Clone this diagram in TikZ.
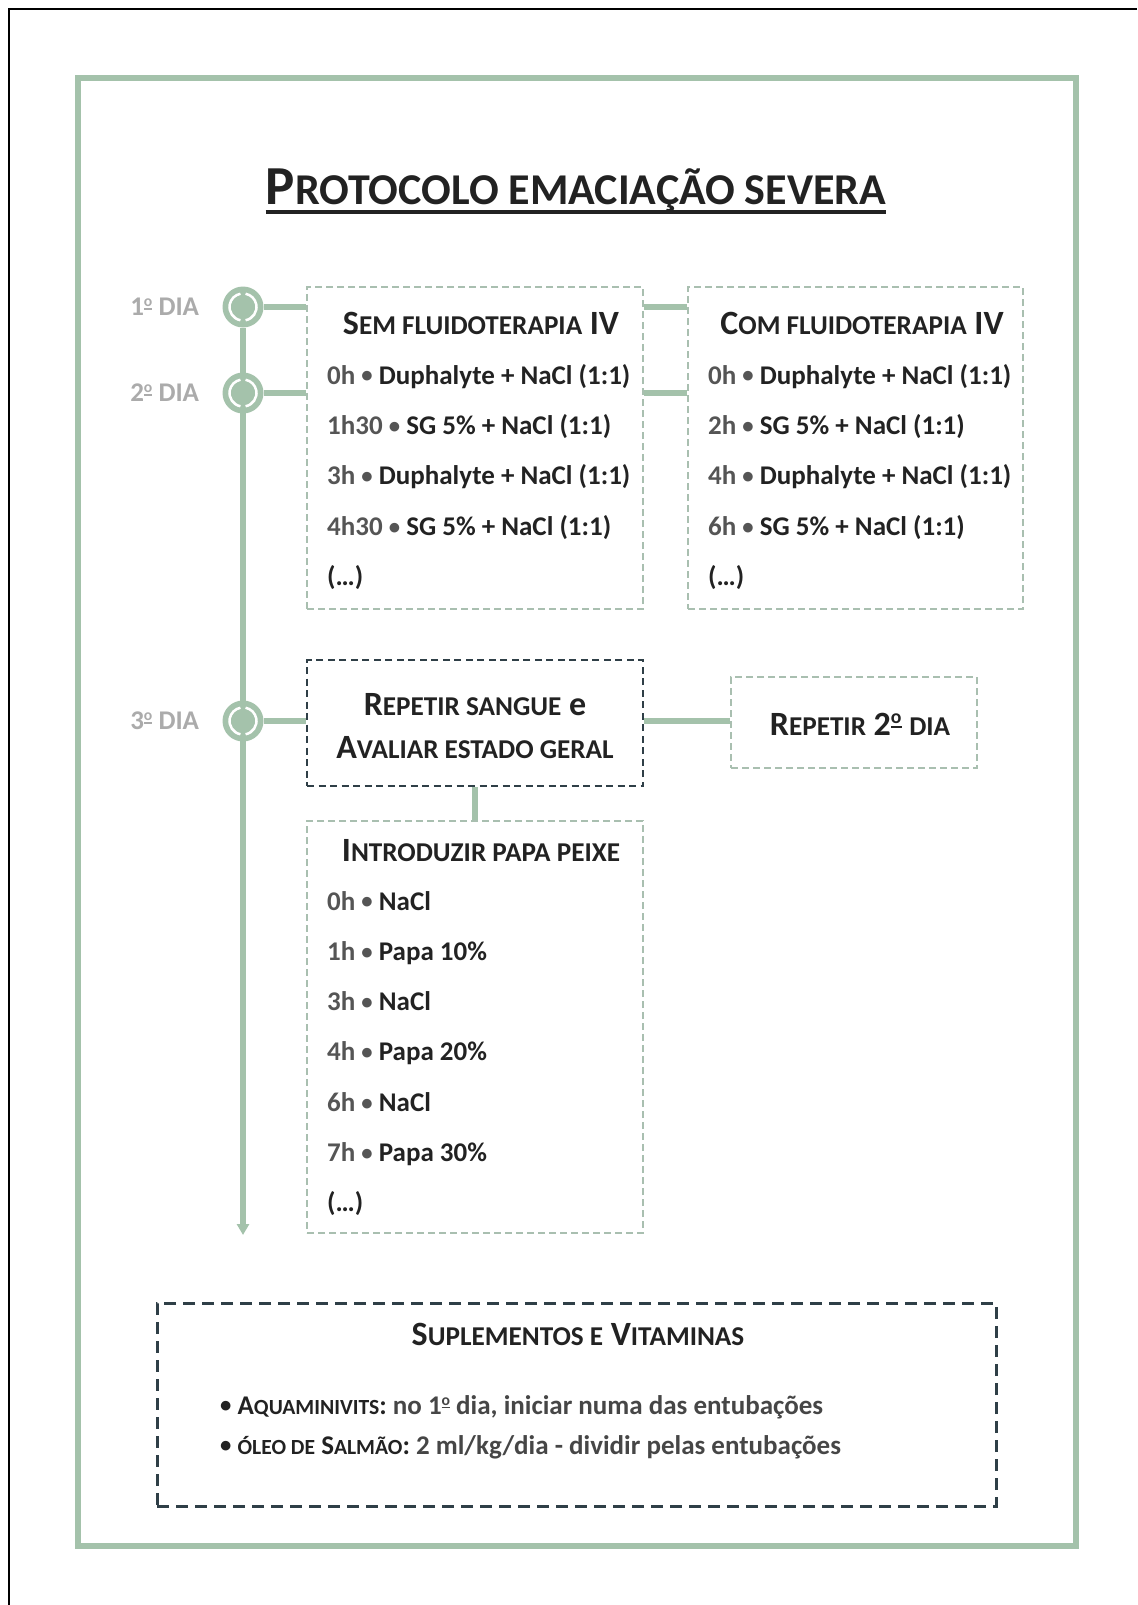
\documentclass[tikz,border=0pt]{standalone}
\usepackage{fontspec}
\setmainfont{Carlito}
\usetikzlibrary{arrows.meta, positioning, calc}

\definecolor{sage}{HTML}{A4C2AB}
\definecolor{lightdash}{HTML}{A9BFB0}
\definecolor{darkdash}{HTML}{2F3F47}
\definecolor{daygray}{HTML}{ABABAB}
\definecolor{ink}{HTML}{222222}
\definecolor{timegray}{HTML}{555555}

\makeatletter
\newcommand\smc[1]{{\fontsize{\strip@pt\dimexpr0.8\dimexpr\f@size pt\relax\relax}{\f@baselineskip}\selectfont#1}}
\newcommand\ordo{\raisebox{.33em}{\fontsize{\strip@pt\dimexpr0.58\dimexpr\f@size pt\relax\relax}{0}\selectfont\setbox0\hbox{o}\rlap{\rule[-.2em]{\wd0}{.11em}}\box0}}
\newcommand\sdot{\raisebox{.04em}{\fontsize{\strip@pt\dimexpr0.84\dimexpr\f@size pt\relax\relax}{0}\selectfont•}}
\makeatother

\begin{document}
\begin{tikzpicture}[x=1pt, y=-1pt, >={Triangle[width=12pt,length=11pt]},
    frame/.style={draw=sage, line width=6pt},
    link/.style={draw=sage, line width=5.5pt},
    lightbox/.style={draw=lightdash, line width=2pt, dash pattern=on 7pt off 4pt, inner sep=0},
    darkbox/.style={draw=darkdash, line width=2.5pt, dash pattern=on 7pt off 4.5pt, inner sep=0},
    daydot/.style={circle, fill=sage, minimum size=41pt, inner sep=0},
    dayring/.style={white, line width=2.5pt},
    daylabel/.style={text=daygray, font=\fontsize{27}{32}\selectfont\bfseries, inner sep=0},
    boxtitle/.style={text=ink, font=\fontsize{34}{40}\selectfont\bfseries, inner sep=0, anchor=base},
    row/.style={text=ink, font=\fontsize{27}{32}\selectfont\bfseries, inner sep=0, anchor=base west}]

\useasboundingbox (0,0) rectangle (1137,1605);

%\draw[step=50, gray!30] (0,0) grid (1137,1605);

\draw[black, line width=2pt] (9,1605) -- (9,9) -- (1137,9);
\draw[frame] (78,78) rectangle (1076,1546);

\node[text=ink, font=\fontsize{55}{60}\selectfont\bfseries, inner sep=0, anchor=base] (title) at (576,205)
    {P\smc{ROTOCOLO EMACIAÇÃO SEVERA}};
\draw[ink, line width=3.5pt] ($(title.base west)+(0,7)$) -- ($(title.base east)+(0,7)$);

% boxes
\node[lightbox, minimum width=336pt, minimum height=322pt] (sem) at (475,448) {};
\node[lightbox, minimum width=335pt, minimum height=322pt] (com) at (855.5,448) {};
\node[darkbox, minimum width=336pt, minimum height=126pt] (rep) at (475,723) {};
\node[lightbox, minimum width=246pt, minimum height=91pt] (rep2) at (854,722.5) {};
\node[lightbox, minimum width=336pt, minimum height=412pt] (papa) at (475,1027) {};
\node[darkbox, line width=3pt, dash pattern=on 12pt off 7pt, minimum width=839pt, minimum height=203pt] (sup) at (576.5,1404.5) {};

% timeline
\node[daydot] (c1) at (243,307) {};
\node[daydot] (c2) at (243,393) {};
\node[daydot] (c3) at (243,721) {};
\coordinate (tlend) at (243,1235);
\draw[link, ->] (c1) -- (tlend);
\foreach \c in {c1,c2,c3}{
    \draw[dayring] (\c) ++(79:13.5) arc (79:-79:13.5);
    \draw[dayring] (\c) ++(101:13.5) arc (101:259:13.5);
}

\node[daylabel, left=23pt of c1] (d1) {1\ordo{} DIA};
\node[daylabel, left=23pt of c2] (d2) {2\ordo{} DIA};
\node[daylabel, left=23pt of c3] (d3) {3\ordo{} DIA};

\draw[link] (c1) -- (sem.west |- c1);
\draw[link] (c2) -- (sem.west |- c2);
\draw[link] (sem.east |- c1) -- (com.west |- c1);
\draw[link] (sem.east |- c2) -- (com.west |- c2);
\draw[link] (c3) -- (rep.west |- c3);
\draw[link] (rep.east |- c3) -- (rep2.west |- c3);
\draw[link] (rep.south) -- (papa.north);

% texts
\node[boxtitle] (semt) at (481,334) {S\smc{EM FLUIDOTERAPIA} IV};
\foreach \hr/\dose [count=\i from 0] in {0h/Duphalyte + NaCl (1:1), 1h30/SG 5\% + NaCl (1:1),
        3h/Duphalyte + NaCl (1:1), 4h30/SG 5\% + NaCl (1:1)}
    \node[row] (sem\i) at (327,{384+50.4*\i}) {{\color{timegray}\hr\ \sdot} \dose};
\node[row] (semdots) at (327,{384+50.4*4}) {(…)};

\node[boxtitle] (comt) at (862,334) {C\smc{OM FLUIDOTERAPIA} IV};
\foreach \hr/\dose [count=\i from 0] in {0h/Duphalyte + NaCl (1:1), 2h/SG 5\% + NaCl (1:1),
        4h/Duphalyte + NaCl (1:1), 6h/SG 5\% + NaCl (1:1)}
    \node[row] (com\i) at (708,{384+50.4*\i}) {{\color{timegray}\hr\ \sdot} \dose};
\node[row] (comdots) at (708,{384+50.4*4}) {(…)};

\node[boxtitle] (rept1) at (475,715) {R\smc{EPETIR SANGUE} e};
\node[boxtitle] (rept2) at (475,758) {A\smc{VALIAR ESTADO GERAL}};
\node[boxtitle] (rep2t) at (860,735) {R\smc{EPETIR} 2\ordo{} \smc{DIA}};

\node[boxtitle] (papat) at (481,861) {I\smc{NTRODUZIR PAPA PEIXE}};
\foreach \hr/\dose [count=\i from 0] in {0h/NaCl, 1h/Papa 10\%, 3h/NaCl, 4h/Papa 20\%,
        6h/NaCl, 7h/Papa 30\%}
    \node[row] (papa\i) at (327,{910+50.3*\i}) {{\color{timegray}\hr\ \sdot} \dose};
\node[row] (papadots) at (327,{910+50.3*6}) {(…)};

\node[boxtitle] (supt) at (578,1345) {S\smc{UPLEMENTOS E} V\smc{ITAMINAS}};
\node[row] (sup1) at (220,1414) {\sdot\ A\smc{QUAMINIVITS}: {\color{timegray!70!ink}no 1\ordo{} dia, iniciar numa das entubações}};
\node[row] (sup2) at (220,1454) {\sdot\ \smc{ÓLEO DE} S\smc{ALMÃO}: {\color{timegray!70!ink}2 ml/kg/dia - dividir pelas entubações}};

\end{tikzpicture}
\end{document}
